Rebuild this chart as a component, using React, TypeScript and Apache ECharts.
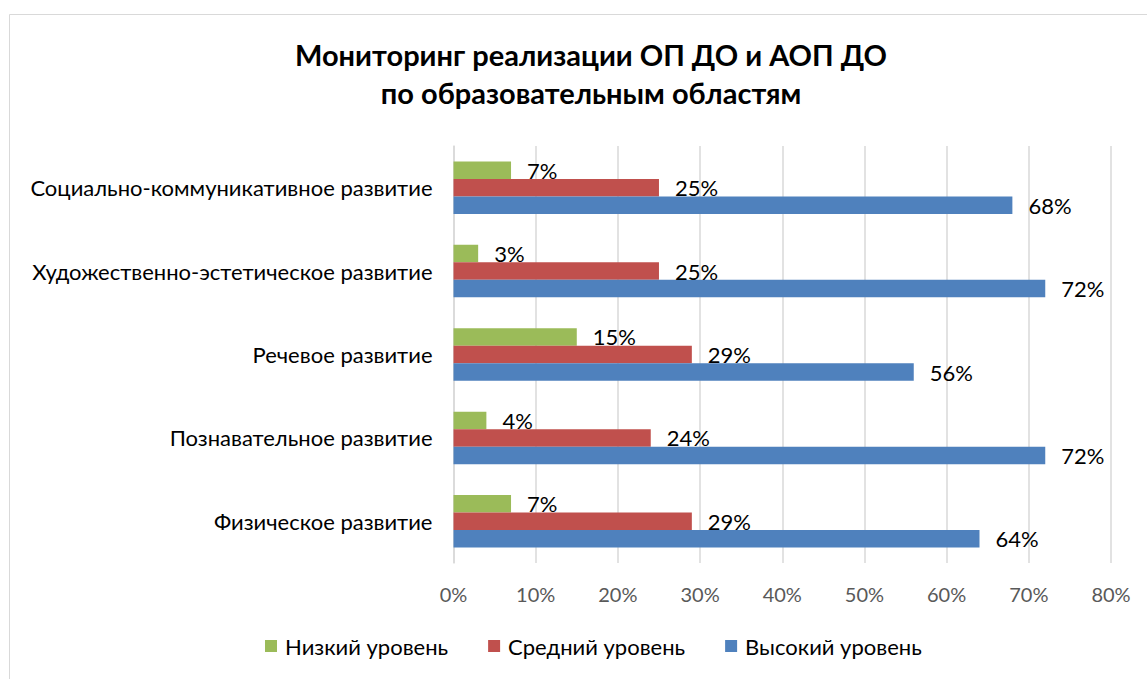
import React, { useEffect, useRef } from "react";
import * as echarts from "echarts";

const categories = [
  "Физическое развитие",
  "Познавательное развитие",
  "Речевое развитие",
  "Художественно-эстетическое развитие",
  "Социально-коммуникативное развитие",
];
const seriesNames = ["Низкий уровень", "Средний уровень", "Высокий уровень"];
const lowValues = [7, 4, 15, 3, 7];
const midValues = [29, 24, 29, 25, 25];
const highValues = [64, 72, 56, 72, 68];
const xTicks = [0, 10, 20, 30, 40, 50, 60, 70, 80];
const colors = ["#9BBB59", "#C0504D", "#4F81BD"];

const FONT = "Lato, 'Noto Sans', sans-serif";

export default function App() {
  const ref = useRef<HTMLDivElement>(null);
  useEffect(() => {
    if (!ref.current) return;
    const chart = echarts.init(ref.current, null, { renderer: "svg" });
    const values = [lowValues, midValues, highValues];
    chart.setOption({
      animation: false,
      backgroundColor: "#ffffff",
      textStyle: { fontFamily: FONT },
      title: {
        text: "Мониторинг реализации ОП ДО и АОП ДО\nпо образовательным областям",
        left: 586,
        textAlign: "center",
        top: 30,
        textStyle: {
          fontFamily: FONT,
          fontSize: 29,
          fontWeight: "bold",
          color: "#000",
          lineHeight: 38,
        },
      },
      graphic: [
        {
          type: "rect",
          shape: { x: 9.5, y: 14.5, width: 1200, height: 700 },
          style: { fill: "none", stroke: "#d9d9d9", lineWidth: 1 },
          silent: true,
        },
      ],
      legend: {
        data: seriesNames,
        bottom: 17,
        left: 260,
        itemWidth: 12,
        itemHeight: 12,
        itemGap: 40,
        icon: "rect",
        textStyle: { fontFamily: FONT, fontSize: 22, color: "#000", padding: [0, 0, 0, 3] },
      },
      grid: { left: 453.5, right: 36, top: 146, bottom: 116, containLabel: false },
      xAxis: {
        type: "value",
        min: xTicks[0],
        max: xTicks[xTicks.length - 1],
        interval: 10,
        axisLine: { show: false },
        axisTick: { show: false },
        splitLine: { show: true, lineStyle: { color: "#d9d9d9", width: 1.5 } },
        axisLabel: {
          formatter: "{value}%",
          fontFamily: FONT,
          fontSize: 20,
          color: "#595959",
          margin: 21,
        },
      },
      yAxis: {
        type: "category",
        data: categories,
        axisLine: { show: true, lineStyle: { color: "#d9d9d9", width: 1.5 } },
        axisTick: { show: false },
        axisLabel: {
          fontFamily: FONT,
          fontSize: 22,
          color: "#000",
          margin: 21,
        },
      },
      series: seriesNames.map((name, i) => ({
        name,
        type: "bar",
        data: values[i],
        barGap: "0%",
        barCategoryGap: "37%",
        itemStyle: { color: colors[i] },
        label: {
          show: true,
          position: "right",
          distance: 16,
          formatter: "{c}%",
          fontFamily: FONT,
          fontSize: 22,
          color: "#000",
        },
      })),
    });
    return () => chart.dispose();
  }, []);
  return (
    <div
      ref={ref}
      style={{ position: "fixed", left: 0, top: 0, width: 1147, height: 679 }}
    />
  );
}
